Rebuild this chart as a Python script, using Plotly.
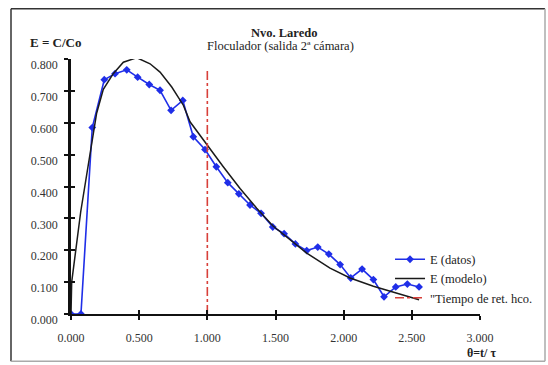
import plotly.graph_objects as go

# ---- data ----
theta_datos = [0.000, 0.073, 0.156, 0.244, 0.323, 0.409, 0.489, 0.574, 0.653, 0.734,
               0.820, 0.897, 0.983, 1.066, 1.150, 1.231, 1.313, 1.394, 1.480, 1.563,
               1.646, 1.729, 1.810, 1.891, 1.974, 2.052, 2.135, 2.218, 2.296, 2.382,
               2.467, 2.553]
e_datos = [0.000, 0.000, 0.585, 0.735, 0.754, 0.766, 0.743, 0.720, 0.702, 0.639,
           0.670, 0.556, 0.516, 0.462, 0.412, 0.377, 0.342, 0.316, 0.273, 0.252,
           0.220, 0.199, 0.210, 0.188, 0.155, 0.113, 0.141, 0.108, 0.054, 0.085,
           0.094, 0.085]

theta_modelo = [0.000, 0.005, 0.071, 0.152, 0.188, 0.237, 0.310, 0.384, 0.482, 0.580,
                0.653, 0.739, 0.824, 0.873, 0.990, 1.117, 1.240, 1.362, 1.480, 1.656,
                1.729, 1.900, 2.047, 2.218, 2.390, 2.553]
e_modelo = [0.000, 0.100, 0.320, 0.530, 0.630, 0.705, 0.754, 0.790, 0.804, 0.785,
            0.759, 0.712, 0.655, 0.603, 0.535, 0.462, 0.394, 0.332, 0.277, 0.217,
            0.191, 0.144, 0.113, 0.087, 0.066, 0.045]

theta_ret = [1.0, 1.0]
e_ret = [0.0, 0.765]

x_ticks = [0.0, 0.5, 1.0, 1.5, 2.0, 2.5, 3.0]
y_ticks = [0.0, 0.1, 0.2, 0.3, 0.4, 0.5, 0.6, 0.7, 0.8]

title_line1 = "Nvo. Laredo"
title_line2 = "Floculador (salida 2ª cámara)"
y_title = "E = C/Co"
x_title = "θ=t/ τ"

SERIF = "Liberation Serif, Times New Roman, serif"

fig = go.Figure()
fig.add_trace(go.Scatter(
    x=theta_datos, y=e_datos, mode="lines+markers", name="E (datos)",
    line=dict(color="#1f2ee8", width=1.6),
    marker=dict(symbol="diamond", size=6, color="#1f2ee8"),
))
fig.add_trace(go.Scatter(
    x=theta_modelo, y=e_modelo, mode="lines", name="E (modelo)",
    line=dict(color="#1a1a1a", width=1.5),
))
fig.add_trace(go.Scatter(
    x=theta_ret, y=e_ret, mode="lines", name="\"Tiempo de ret. hco.",
    line=dict(color="#d8403a", width=1.6, dash="dashdot"),
))
# empty helper traces so the tick-only overlay axes (inner half of crossing ticks) are drawn
fig.add_trace(go.Scatter(x=[None], y=[None], xaxis="x2", yaxis="y",
                         showlegend=False, hoverinfo="skip", mode="lines"))
fig.add_trace(go.Scatter(x=[None], y=[None], xaxis="x", yaxis="y2",
                         showlegend=False, hoverinfo="skip", mode="lines"))

axis_font = dict(family=SERIF, size=12, color="#333333")

fig.update_layout(
    width=548, height=365,
    margin=dict(l=71, r=68, t=58.5, b=50.5, autoexpand=False),
    paper_bgcolor="white", plot_bgcolor="white",
    showlegend=True,
    legend=dict(
        x=0.78, y=0.272, xanchor="left", yanchor="top",
        bgcolor="rgba(0,0,0,0)", font=dict(family=SERIF, size=12.5, color="#222222"),
        itemwidth=30, tracegroupgap=0,
    ),
    xaxis=dict(
        range=[0, 3], tickvals=x_ticks, tickformat=".3f",
        showgrid=False, zeroline=False, showline=True, linecolor="#111111", linewidth=2,
        ticks="outside", ticklen=4, tickwidth=1.5, tickcolor="#111111",
        tickfont=axis_font, ticklabelstandoff=8,
    ),
    yaxis=dict(
        range=[0, 0.8], tickvals=y_ticks, tickformat=".3f",
        showgrid=False, zeroline=False, showline=True, linecolor="#111111", linewidth=2.5,
        ticks="outside", ticklen=4, tickwidth=1.5, tickcolor="#111111",
        tickfont=axis_font, ticklabelstandoff=4, ticklabelshift=6,
    ),
    xaxis2=dict(
        range=[0, 3], tickvals=x_ticks, overlaying="x", anchor="y", side="bottom",
        showgrid=False, zeroline=False, showline=False, showticklabels=False,
        ticks="inside", ticklen=4, tickwidth=1.5, tickcolor="#111111",
    ),
    yaxis2=dict(
        range=[0, 0.8], tickvals=y_ticks, overlaying="y", anchor="x", side="left",
        showgrid=False, zeroline=False, showline=False, showticklabels=False,
        ticks="inside", ticklen=4, tickwidth=1.5, tickcolor="#111111",
    ),
)

# Title and axis titles
fig.add_annotation(text="<b>" + title_line1 + "</b>", xref="paper", yref="paper",
                   x=(284 - 71) / 409, y=(314.5 - 32) / 256, showarrow=False,
                   xanchor="center", yanchor="middle",
                   font=dict(family=SERIF, size=12.5, color="#222222"))
fig.add_annotation(text=title_line2, xref="paper", yref="paper",
                   x=(280 - 71) / 409, y=(314.5 - 45) / 256, showarrow=False,
                   xanchor="center", yanchor="middle",
                   font=dict(family=SERIF, size=12.5, color="#222222"))
fig.add_annotation(text="<b>" + y_title + "</b>", xref="paper", yref="paper",
                   x=(28 - 71) / 409, y=(314.5 - 42) / 256, showarrow=False,
                   xanchor="left", yanchor="middle",
                   font=dict(family=SERIF, size=13, color="#222222"))
fig.add_annotation(text="<b>" + x_title + "</b>", xref="paper", yref="paper",
                   x=(482 - 71) / 409, y=(314.5 - 354) / 256, showarrow=False,
                   xanchor="center", yanchor="middle",
                   font=dict(family=SERIF, size=12, color="#222222"))

# Outer frame
def px_x(p):
    return (p - 71) / 409

def px_y(p):
    return (314.5 - p) / 256

frame = [
    (11, 8, 545, 8, "#333333"),
    (11, 8, 11, 362, "#333333"),
    (11, 362, 545, 362, "#aaaaaa"),
    (545, 8, 545, 362, "#aaaaaa"),
]
for x0, y0, x1, y1, c in frame:
    fig.add_shape(type="line", xref="paper", yref="paper",
                  x0=px_x(x0), y0=px_y(y0), x1=px_x(x1), y1=px_y(y1),
                  line=dict(color=c, width=1.5))

fig.write_html("out.html")
